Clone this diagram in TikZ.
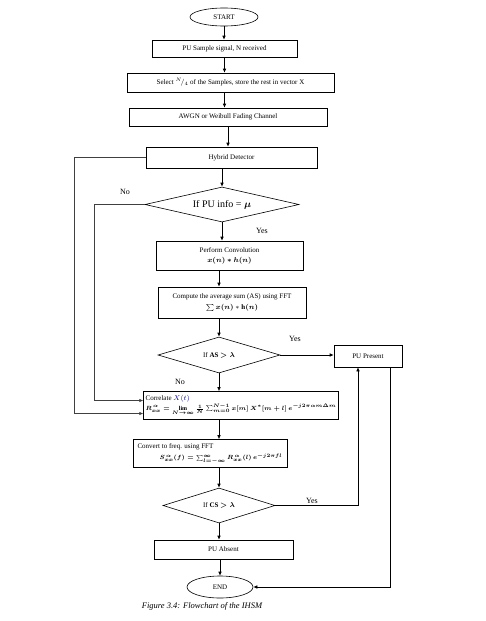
\documentclass[tikz,border=0pt]{standalone}
\usepackage{amsmath,bm}
\usepackage{fontspec}
\setmainfont{Liberation Serif}
\usetikzlibrary{arrows.meta,positioning,shapes.geometric}

\begin{document}
\begin{tikzpicture}[
  x=1pt, y=-1pt,
  font=\fontsize{7}{9}\selectfont,
  line width=0.6pt,
  box/.style={
    draw,
    align=center,
    inner sep=2pt
  },
  terminal/.style={
    draw,
    ellipse,
    inner sep=0pt
  },
  decision/.style={
    draw,
    diamond,
    aspect=4,
    inner sep=0pt
  },
  flow/.style={
    -{Latex[length=4pt,width=3.5pt]}
  },
  loopline/.style={
    flow,
    draw=black!75
  },
  answer/.style={
    font=\fontsize{8}{9}\selectfont
  }
]
\useasboundingbox (0,0) rectangle (485,621);

% Main column
\node[terminal, minimum width=68, minimum height=18] (start) at (224,17) {START};
\node[box, minimum width=145, minimum height=17] (sample) at (224.5,48.5) {PU Sample signal, N received};
\node[box, minimum width=207, minimum height=19] (select) at (230.5,82.5)
  {Select $^{N}\!/_{4}$ of the Samples, store the rest in vector X};
\node[box, minimum width=198, minimum height=18] (awgn) at (228,117) {AWGN or Weibull Fading Channel};
\node[box, minimum width=171, minimum height=21] (hybrid) at (231.5,157.5) {Hybrid Detector};
\node[decision, minimum width=154, minimum height=35, font=\fontsize{10}{12}\selectfont]
  (puinfo) at (222,204.5) {If PU info = $\boldsymbol{\mu}$};
\node[box, minimum width=147, minimum height=29] (conv) at (229.5,255.5)
  {Perform Convolution\\[1pt] $\boldsymbol{x(n) * h(n)}$};
\node[box, minimum width=148, minimum height=31] (avg) at (232,302.5)
  {Compute the average sum (AS) using FFT\\[2pt] $\sum \boldsymbol{x(n)} * \mathbf{h}\boldsymbol{(n)}$};
\node[decision, minimum width=122, minimum height=36] (asdec) at (219,355)
  {If \textbf{AS} $\boldsymbol{> \lambda}$};
\node[box, minimum width=152, minimum height=28, align=left] (corr) at (241,405.5)
  {Correlate \textcolor{blue!60!black}{$X(t)$}\\[1pt]
   {\fontsize{6}{7}\selectfont\boldmath$R^{\,\alpha}_{xx}=\lim\limits_{N\to\infty}\frac{1}{N}\sum_{m=0}^{N-1}x[m]\,X^{*}[m+l]\,e^{-j2\pi\alpha m\Delta m}$}};
\node[box, minimum width=154, minimum height=28, align=left] (convert) at (210,453.5)
  {Convert to freq. using FFT\\[2pt]
   \hspace*{22pt}{\fontsize{6}{7}\selectfont\boldmath$S^{\,\alpha}_{xx}(f)=\sum_{l=-\infty}^{\infty}R^{\,\alpha}_{xx}(l)\,e^{-j2\pi f l}$}};
\node[decision, minimum width=112, minimum height=35] (csdec) at (219,505.5)
  {If \textbf{CS} $\boldsymbol{> \lambda}$};
\node[box, minimum width=139, minimum height=19] (absent) at (223.5,549.5) {PU Absent};
\node[terminal, minimum width=66, minimum height=22] (end) at (220,587) {END};

% Side node
\node[box, minimum width=68, minimum height=22] (present) at (368,356) {PU Present};

% Caption
\node[font=\fontsize{8.5}{10}\selectfont\itshape] (caption) at (202,606) {Figure 3.4: Flowchart of the IHSM};

% Main flow
\draw[flow] (start) -- (start |- sample.north);
\draw[flow] (sample.south) -- (sample.south |- select.north);
\draw[flow] (sample.south |- select.south) -- (sample.south |- awgn.north);
\draw[flow] (awgn.south) -- (awgn.south |- hybrid.north);
\draw[flow] (puinfo.north |- hybrid.south) -- (puinfo.north);
\draw[flow] (puinfo.south) -- (puinfo.south |- conv.north);
\draw[flow] (asdec.north |- conv.south) -- (asdec.north |- avg.north);
\draw[flow] (asdec.north |- avg.south) -- (asdec.north);
\draw[flow] (asdec.south) -- (asdec.south |- corr.north);
\draw[flow] (asdec.south |- corr.south) -- (asdec.south |- convert.north);
\draw[flow] (csdec.north |- convert.south) -- (csdec.north);
\draw[flow] (csdec.south) -- (csdec.south |- absent.north);
\draw[flow] (end.north |- absent.south) -- (end.north);

% Decisions to the right
\draw[flow] (asdec.east) -- (asdec.east -| present.west);
\draw[flow] (csdec.east) -| ([xshift=-10pt]present.south);
\draw[flow] ([xshift=22pt]present.south) |- (end.east);

% Loops on the left
\draw[loopline] (hybrid.west) -- ++(-71,0) |- ([yshift=-8pt]corr.west);
\draw[loopline] (puinfo.west) -- ++(-50,0) |- ([yshift=5pt]corr.west);

% Answers
\node[answer] (no1) at (125,192) {No};
\node[answer] (yes1) at (262,231) {Yes};
\node[answer] (yes2) at (295,339) {Yes};
\node[answer] (no2) at (180,382) {No};
\node[answer] (yes3) at (312,501) {Yes};

\end{tikzpicture}
\end{document}
